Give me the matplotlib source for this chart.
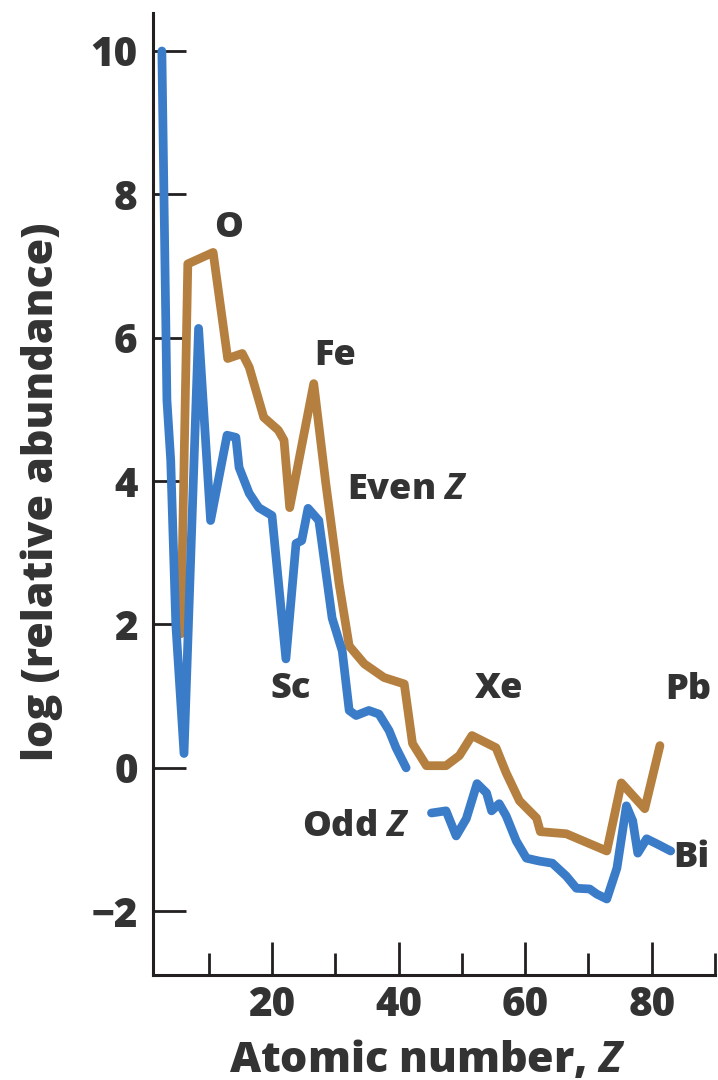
import matplotlib
matplotlib.use('Agg')
import matplotlib.pyplot as plt
from matplotlib.ticker import MultipleLocator

plt.rcParams['font.family'] = ['Open Sans', 'DejaVu Sans']
plt.rcParams['font.weight'] = 'bold'
plt.rcParams['axes.labelweight'] = 'bold'
plt.rcParams['mathtext.fontset'] = 'custom'
plt.rcParams['mathtext.bfit'] = 'Open Sans:italic:bold'
plt.rcParams['mathtext.it'] = 'Open Sans:italic:bold'

# odd Z curve, light elements part
odd_z_a = [2.6, 3.4, 4.0, 4.8, 6.1, 8.4, 10.3, 12.9, 14.3, 14.8, 16.4, 17.9, 20.0,
           22.2, 23.8, 24.7, 25.7, 27.4, 27.9, 29.5, 31.1, 32.2, 33.3, 35.3, 36.9,
           38.5, 39.6, 41.2]
odd_log_a = [10.0, 5.13, 4.29, 2.01, 0.20, 6.13, 3.45, 4.64, 4.61, 4.19, 3.83, 3.63, 3.52,
             1.52, 3.13, 3.17, 3.62, 3.45, 3.13, 2.09, 1.63, 0.80, 0.73, 0.80, 0.75,
             0.52, 0.28, 0.0]
# odd Z curve, heavy elements part
odd_z_b = [45.2, 47.5, 49.1, 50.7, 52.4, 53.9, 54.7, 55.9, 57.0, 58.6, 60.2, 62.2,
           64.3, 66.5, 68.1, 70.2, 71.3, 72.9, 74.5, 76.0, 77.0, 77.8, 79.2, 80.8, 83.0]
odd_log_b = [-0.63, -0.60, -0.95, -0.71, -0.22, -0.35, -0.60, -0.50, -0.67, -1.02, -1.26, -1.30,
             -1.33, -1.51, -1.68, -1.69, -1.76, -1.83, -1.40, -0.53, -0.74, -1.19, -0.99, -1.06, -1.16]
# even Z curve
even_z = [5.6, 6.7, 10.7, 13.0, 15.3, 16.4, 18.7, 21.0, 21.9, 22.8, 26.6, 28.5, 30.6,
          32.2, 34.6, 37.7, 40.9, 42.2, 44.4, 47.5, 49.6, 51.6, 55.4, 57.0, 59.1, 61.8,
          62.4, 66.5, 72.9, 75.2, 78.9, 81.3]
even_log = [1.87, 7.03, 7.19, 5.71, 5.78, 5.59, 4.89, 4.71, 4.57, 3.63, 5.36, 3.97, 2.57,
            1.70, 1.45, 1.26, 1.17, 0.34, 0.03, 0.03, 0.17, 0.45, 0.28, -0.07, -0.46, -0.70,
            -0.89, -0.92, -1.16, -0.21, -0.57, 0.31]

labels = ['O', 'Fe', 'Sc', 'Xe', 'Pb', 'Bi']
label_z = [13.2, 30.0, 23.0, 55.9, 85.7, 86.3]
label_log = [7.53, 5.75, 1.10, 1.10, 1.08, -1.26]

blue = '#3b7cc9'
brown = '#b5803f'
ink = '#231f20'
txt = '#333333'

fig = plt.figure(figsize=(7.18, 10.8), dpi=100)
ax = fig.add_axes([153 / 718, 1 - 975 / 1080, (715 - 153) / 718, (975 - 13) / 1080])

ax.plot(even_z, even_log, color=brown, lw=6.3, solid_joinstyle='round', solid_capstyle='round')
ax.plot(odd_z_a, odd_log_a, color=blue, lw=6.3, solid_joinstyle='round', solid_capstyle='round')
ax.plot(odd_z_b, odd_log_b, color=blue, lw=6.3, solid_joinstyle='round', solid_capstyle='round')

for s, zx, ly in zip(labels, label_z, label_log):
    ax.text(zx, ly, s, ha='center', va='center', fontsize=26, color=txt, fontweight='heavy')
ax.text(31.9, 3.87, 'Even $\\mathit{Z}$', ha='left', va='center', fontsize=26, color=txt,
        fontweight='heavy')
ax.text(33.3, -0.82, 'Odd $\\mathit{Z}$', ha='center', va='center', fontsize=26, color=txt,
        fontweight='heavy')

ax.set_xlim(1.2, 90)
ax.set_ylim(-2.89, 10.53)
ax.xaxis.set_minor_locator(MultipleLocator(10))
ax.set_xticks([20, 40, 60, 80])
ax.set_yticks([-2, 0, 2, 4, 6, 8, 10])
for lab in ax.get_xticklabels() + ax.get_yticklabels():
    lab.set_fontweight('heavy')

for side in ['top', 'right']:
    ax.spines[side].set_visible(False)
for side in ['left', 'bottom']:
    ax.spines[side].set_linewidth(2.2)
    ax.spines[side].set_color(ink)

ax.tick_params(axis='both', which='major', direction='in', length=24, width=2.0,
               color=ink, labelsize=29, labelcolor=txt)
ax.tick_params(axis='x', which='major', pad=7)
ax.tick_params(axis='y', which='major', pad=11)
ax.tick_params(axis='x', which='minor', direction='in', length=16, width=2.0, color=ink)

ax.set_xlabel('Atomic number, $\\mathit{Z}$', fontsize=31, color=txt, va='baseline',
              fontweight='heavy')
ax.set_ylabel('log (relative abundance)', fontsize=31, color=txt, va='baseline',
              fontweight='heavy')
ax.xaxis.set_label_coords(0.488, -0.1008)
ax.yaxis.set_label_coords(-0.178, 0.502)

fig.savefig('out.png', dpi=100)
